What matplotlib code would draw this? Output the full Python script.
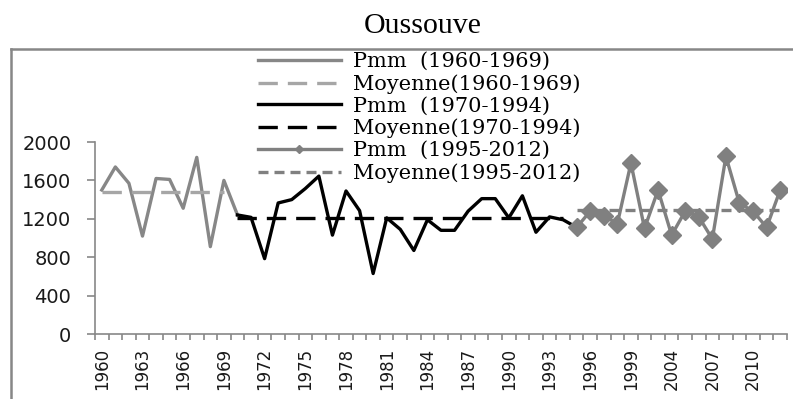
import matplotlib
matplotlib.use("Agg")
import matplotlib.pyplot as plt
from matplotlib.lines import Line2D
import numpy as np

# Annual rainfall (mm) at Oussouve, by period
years = list(range(1960, 2002)) + list(range(2004, 2013))
pmm = [1500, 1740, 1570, 1020, 1620, 1610, 1310, 1840, 910, 1600,
       1240, 1215, 785, 1365, 1400, 1515, 1645, 1030, 1490, 1285,
       630, 1210, 1090, 870, 1190, 1080, 1080, 1280, 1410, 1410,
       1210, 1440, 1060, 1220, 1190,
       1110, 1280, 1230, 1150, 1780, 1100, 1500, 1030, 1280, 1220,
       990, 1850, 1360, 1280, 1110, 1500]
periods = ["1960-1969", "1970-1994", "1995-2012"]
period_means = [1480, 1210, 1290]
yticks = [0, 400, 800, 1200, 1600, 2000]

x = np.arange(len(years))
yr = np.array(years)
p = np.array(pmm)

# index ranges of each period (rainfall lines run on to the first year of the next period)
i1 = np.where((yr >= 1960) & (yr <= 1969))[0]
i2 = np.where((yr >= 1970) & (yr <= 1994))[0]
i3 = np.where((yr >= 1995) & (yr <= 2012))[0]
l1 = np.append(i1, i2[0])
l2 = np.append(i2, i3[0])

fig = plt.figure(figsize=(7.93, 3.99), dpi=100)
ax = fig.add_axes([0.1198, 0.1629, 0.8726, 0.4812])

lw = 2.4
long_dash = (5.8, 3.0)
short_dash = (3.0, 1.8)

h1, = ax.plot(x[l1], p[l1], color="#878787", lw=lw)
h2, = ax.plot(x[i1], [period_means[0]] * len(i1), color="#a6a6a6", lw=lw,
              dashes=long_dash)
h3, = ax.plot(x[l2], p[l2], color="black", lw=lw)
h4, = ax.plot(x[i2], [period_means[1]] * len(i2), color="black", lw=lw,
              dashes=long_dash)
h5, = ax.plot(x[i3], p[i3], color="#808080", lw=lw, marker="D",
              markersize=9.5)
h6, = ax.plot(x[i3], [period_means[2]] * len(i3), color="#808080", lw=lw,
              dashes=short_dash)

labels = ["Pmm  (%s)" % periods[0], "Moyenne(%s)" % periods[0],
          "Pmm  (%s)" % periods[1], "Moyenne(%s)" % periods[1],
          "Pmm  (%s)" % periods[2], "Moyenne(%s)" % periods[2]]
fig.legend([h1, h2, h3, h4, h5, h6], labels, loc="upper left",
           bbox_to_anchor=(0.325, 0.869), bbox_transform=fig.transFigure,
           frameon=False, borderpad=0, borderaxespad=0,
           handlelength=4.0, handletextpad=0.55, labelspacing=0.14,
           markerscale=0.45, prop={"family": "DejaVu Serif", "size": 15})

ax.set_xlim(-0.5, len(years) - 0.5)
ax.set_ylim(0, 2000)
ax.set_yticks(yticks)
ax.set_xticks(x[::3])
ax.set_xticklabels([str(y) for y in years[::3]], rotation=90)
ax.set_xticks(np.arange(-0.5, len(years)), minor=True)

for s in ["top", "right"]:
    ax.spines[s].set_visible(False)
for s in ["left", "bottom"]:
    ax.spines[s].set_color("#878787")
    ax.spines[s].set_linewidth(1.2)

ax.tick_params(axis="y", length=6, width=1.2, color="#878787", pad=11,
               labelsize=14, labelcolor="#1a1a1a")
ax.tick_params(axis="x", which="major", length=0, pad=10, labelsize=12,
               labelcolor="#1a1a1a")
ax.tick_params(axis="x", which="minor", length=4, width=1.2, color="#878787")

# chart title and outer frame
fig.text(0.533, 0.917, "Oussouve", ha="center", va="baseline",
         family="Liberation Serif", fontsize=21.5)
fig.add_artist(Line2D([10.5 / 793, 10.5 / 793], [0, 0.877], color="#878787",
                      lw=1.8, transform=fig.transFigure))
fig.add_artist(Line2D([10.5 / 793, 1.0], [0.877, 0.877], color="#878787",
                      lw=1.8, transform=fig.transFigure))

fig.savefig("out.png", dpi=100)
